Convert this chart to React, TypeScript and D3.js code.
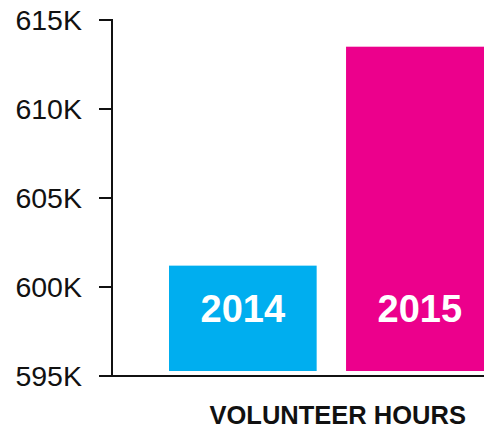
import React from "react";
import * as d3 from "d3";

const categories = ["2014", "2015"];
const values = [601.2, 613.5]; // thousands of volunteer hours
const yTicks = [595, 600, 605, 610, 615];
const colors = ["#00AEEF", "#EC008C"];
const xTitle = "VOLUNTEER HOURS";

const W = 484;
const H = 428;
const FONT = "'Liberation Sans', Arial, Helvetica, sans-serif";

export default function App() {
  const axisX = 112;
  const y = d3.scaleLinear().domain([595, 615]).range([376, 20]);
  const x = d3
    .scaleBand<string>()
    .domain(categories)
    .range([169, 493.7])
    .paddingInner(0.166)
    .paddingOuter(0);
  const barBottom = y(595) - 5;

  return (
    <svg
      width={W}
      height={H}
      style={{ position: "absolute", left: 0, top: 0, display: "block" }}
      fontFamily={FONT}
    >
      {categories.map((c, i) => {
        const x0 = x(c) as number;
        const top = y(values[i]);
        return (
          <g key={c}>
            <rect
              x={x0}
              y={top}
              width={x.bandwidth()}
              height={barBottom - top}
              fill={colors[i]}
            />
            <text
              x={x0 + x.bandwidth() / 2}
              y={322}
              textAnchor="middle"
              fill="#fff"
              fontWeight="bold"
              fontSize={38}
            >
              {c}
            </text>
          </g>
        );
      })}
      {/* y axis */}
      <line x1={axisX} x2={axisX} y1={y(615) - 1} y2={y(595)} stroke="#111" strokeWidth={2} />
      {yTicks.map((t) => (
        <g key={t}>
          <line x1={axisX - 13} x2={axisX} y1={y(t)} y2={y(t)} stroke="#111" strokeWidth={2} />
          <text
            x={82}
            y={y(t)}
            dy="0.36em"
            textAnchor="end"
            fontSize={28.5}
            fill="#111"
          >
            {d3.format("d")(t)}K
          </text>
        </g>
      ))}
      {/* x axis */}
      <line x1={axisX - 1} x2={W} y1={y(595)} y2={y(595)} stroke="#111" strokeWidth={2} />
      <text
        x={337.7}
        y={424}
        textAnchor="middle"
        fontWeight="bold"
        fontSize={25.5}
        fill="#111"
      >
        {xTitle}
      </text>
    </svg>
  );
}
